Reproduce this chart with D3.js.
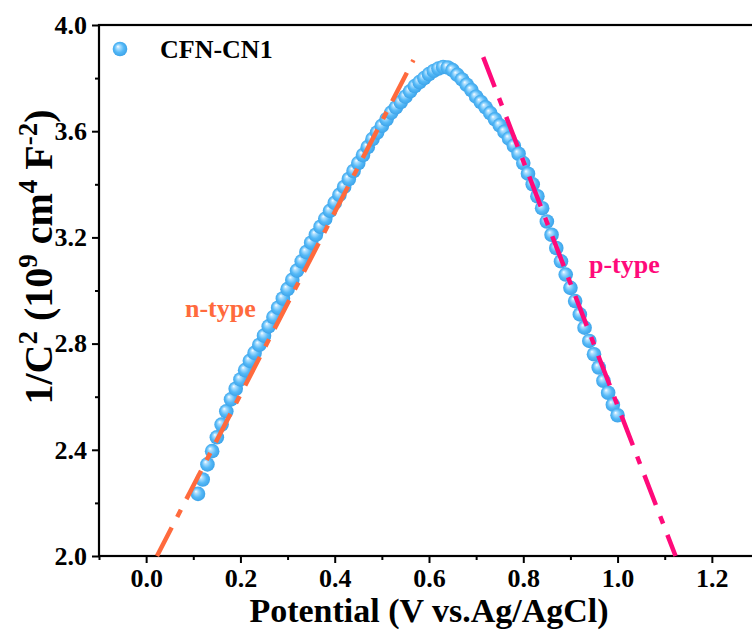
<!DOCTYPE html>
<html>
<head>
<meta charset="utf-8">
<script src="https://cdn.jsdelivr.net/npm/d3@7"></script>
<style>
  body { margin: 0; background: #fff; }
  text { font-family: "Liberation Serif", "Times New Roman", serif; font-weight: bold; }
</style>
</head>
<body>
<div id="chart-area"></div>
<script>
const potential = [0.11, 0.12, 0.13, 0.14, 0.15, 0.16, 0.17, 0.18, 0.19, 0.20,
  0.21, 0.22, 0.23, 0.24, 0.25, 0.26, 0.27, 0.28, 0.29, 0.30,
  0.31, 0.32, 0.33, 0.34, 0.35, 0.36, 0.37, 0.38, 0.39, 0.40,
  0.41, 0.42, 0.43, 0.44, 0.45, 0.46, 0.47, 0.48, 0.49, 0.50,
  0.51, 0.52, 0.53, 0.54, 0.55, 0.56, 0.57, 0.58, 0.59, 0.60,
  0.61, 0.62, 0.63, 0.64, 0.65, 0.66, 0.67, 0.68, 0.69, 0.70,
  0.71, 0.72, 0.73, 0.74, 0.75, 0.76, 0.77, 0.78, 0.79, 0.80,
  0.81, 0.82, 0.83, 0.84, 0.85, 0.86, 0.87, 0.88, 0.89, 0.90,
  0.91, 0.92, 0.93, 0.94, 0.95, 0.96, 0.97, 0.98, 0.99, 1.00];
const invC2 = [2.234, 2.288, 2.345, 2.395, 2.447, 2.495, 2.545, 2.59, 2.63, 2.665,
  2.70, 2.735, 2.765, 2.795, 2.83, 2.865, 2.90, 2.935, 2.97, 3.005,
  3.04, 3.075, 3.11, 3.145, 3.18, 3.21, 3.24, 3.27, 3.30, 3.33,
  3.36, 3.39, 3.42, 3.45, 3.48, 3.51, 3.54, 3.57, 3.595, 3.62,
  3.645, 3.67, 3.69, 3.71, 3.73, 3.75, 3.77, 3.785, 3.80, 3.815,
  3.827, 3.836, 3.842, 3.84, 3.83, 3.812, 3.795, 3.775, 3.755, 3.73,
  3.71, 3.69, 3.668, 3.645, 3.622, 3.598, 3.572, 3.545, 3.515, 3.48,
  3.44, 3.40, 3.355, 3.31, 3.26, 3.21, 3.16, 3.11, 3.06, 3.01,
  2.96, 2.91, 2.86, 2.81, 2.76, 2.71, 2.66, 2.615, 2.57, 2.53];

// fitted lines (end points)
const nFit = [[0.023, 2.0], [0.567, 3.868]];
const pFit = [[0.715, 3.879], [1.123, 2.0]];

const xTicks = [0.0, 0.2, 0.4, 0.6, 0.8, 1.0, 1.2];
const xMinor = [-0.1, 0.1, 0.3, 0.5, 0.7, 0.9, 1.1, 1.3];
const yTicks = [2.0, 2.4, 2.8, 3.2, 3.6, 4.0];
const yMinor = [2.2, 2.6, 3.0, 3.4, 3.8];

const seriesName = "CFN-CN1";

const margin = { top: 25, right: 0, bottom: 75, left: 99 };
const width = 660;
const height = 531;

const svg = d3.select("#chart-area")
    .append("svg")
    .attr("width", 752)
    .attr("height", 631);

const defs = svg.append("defs");
const grad = defs.append("radialGradient")
    .attr("id", "ball")
    .attr("cx", "50%").attr("cy", "50%").attr("r", "55%")
    .attr("fx", "35%").attr("fy", "32%");
grad.append("stop").attr("offset", "0%").attr("stop-color", "#ffffff");
grad.append("stop").attr("offset", "20%").attr("stop-color", "#b0e0ff");
grad.append("stop").attr("offset", "58%").attr("stop-color", "#55b9f7");
grad.append("stop").attr("offset", "100%").attr("stop-color", "#389fe6");

const g = svg.append("g")
    .attr("transform", `translate(${margin.left}, ${margin.top})`);

const x = d3.scaleLinear()
    .domain([-0.1, 1.3])
    .range([0, width]);

const y = d3.scaleLinear()
    .domain([2.0, 4.0])
    .range([height, 0]);

// axes
const xAxis = g.append("g")
    .attr("transform", `translate(0, ${height})`)
    .call(d3.axisBottom(x).tickValues(xTicks).tickSize(7).tickPadding(6).tickFormat(d3.format(".1f")));
const xAxisMinor = g.append("g")
    .attr("transform", `translate(0, ${height})`)
    .call(d3.axisBottom(x).tickValues(xMinor).tickSize(4).tickFormat(""));

const yAxis = g.append("g")
    .call(d3.axisLeft(y).tickValues(yTicks).tickSize(7).tickPadding(5).tickFormat(d3.format(".1f")));
const yAxisMinor = g.append("g")
    .call(d3.axisLeft(y).tickValues(yMinor).tickSize(4).tickFormat(""));

[xAxis, xAxisMinor, yAxis, yAxisMinor].forEach(ax => {
    ax.select(".domain").remove();
    ax.selectAll("line").attr("stroke", "#000").attr("stroke-width", 2);
    ax.selectAll("text")
        .attr("font-size", "26px")
        .attr("fill", "#000")
        .attr("font-family", "Liberation Serif, Times New Roman, serif")
        .attr("font-weight", "bold");
});

// frame
g.append("rect")
    .attr("x", 0).attr("y", 0)
    .attr("width", width).attr("height", height)
    .attr("fill", "none")
    .attr("stroke", "#000")
    .attr("stroke-width", 2.2);

// data points
const points = potential.map((v, i) => ({ v: v, c: invC2[i] }));
g.selectAll("circle.pt")
    .data(points)
    .enter()
    .append("circle")
    .attr("class", "pt")
    .attr("cx", d => x(d.v))
    .attr("cy", d => y(d.c))
    .attr("r", 7.3)
    .attr("fill", "url(#ball)");

// fit lines
const line = d3.line().x(d => x(d[0])).y(d => y(d[1]));
g.append("path")
    .datum(nFit)
    .attr("d", line)
    .attr("fill", "none")
    .attr("stroke", "#ff6a3d")
    .attr("stroke-width", 4.5)
    .attr("stroke-dasharray", "32,12,8,12");
g.append("path")
    .datum(pFit)
    .attr("d", line)
    .attr("fill", "none")
    .attr("stroke", "#ff0a7a")
    .attr("stroke-width", 4.5)
    .attr("stroke-dasharray", "32,12,8,12");

// annotations
g.append("text")
    .attr("x", 185 - margin.left).attr("y", 317 - margin.top)
    .attr("font-size", "26px")
    .attr("fill", "#ff6a3d")
    .text("n-type");
g.append("text")
    .attr("x", 589 - margin.left).attr("y", 273 - margin.top)
    .attr("font-size", "26px")
    .attr("fill", "#ff0a7a")
    .text("p-type");

// legend
g.append("circle")
    .attr("cx", 120 - margin.left).attr("cy", 49 - margin.top)
    .attr("r", 7.3)
    .attr("fill", "url(#ball)");
g.append("text")
    .attr("x", 160 - margin.left).attr("y", 58 - margin.top)
    .attr("font-size", "26px")
    .attr("fill", "#000")
    .text(seriesName);

// axis titles
svg.append("text")
    .attr("x", 429).attr("y", 622)
    .attr("text-anchor", "middle")
    .attr("font-size", "34px")
    .text("Potential (V vs.Ag/AgCl)");

const yTitle = svg.append("text")
    .attr("transform", "translate(52, 257) rotate(-90)")
    .attr("text-anchor", "middle")
    .attr("font-size", "40px");
yTitle.append("tspan").text("1/C");
yTitle.append("tspan").attr("font-size", "27px").attr("dy", -15).text("2");
yTitle.append("tspan").attr("dy", 15).text(" (10");
yTitle.append("tspan").attr("font-size", "27px").attr("dy", -15).text("9");
yTitle.append("tspan").attr("dy", 15).text(" cm");
yTitle.append("tspan").attr("font-size", "27px").attr("dy", -15).text("4");
yTitle.append("tspan").attr("dy", 15).text(" F");
yTitle.append("tspan").attr("font-size", "27px").attr("dy", -15).text("-2");
yTitle.append("tspan").attr("dy", 15).text(")");
</script>
</body>
</html>
